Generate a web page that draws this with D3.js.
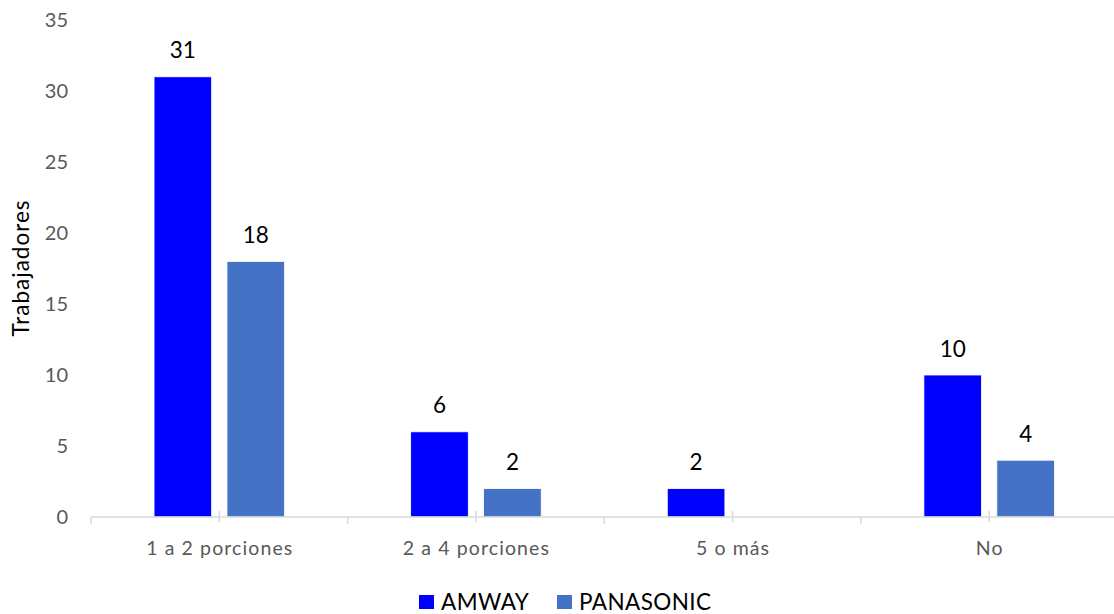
<!DOCTYPE html>
<html><head><meta charset="utf-8">
<script src="https://cdn.jsdelivr.net/npm/d3@7"></script>
<style>body{margin:0;background:#fff}svg{display:block;font-family:Lato,"Open Sans",sans-serif}</style>
</head><body><svg id="c" width="1114" height="614"></svg>
<script>
const categories = ["1 a 2 porciones", "2 a 4 porciones", "5 o más", "No"];
const seriesNames = ["AMWAY", "PANASONIC"];
const amway = [31, 6, 2, 10];
const panasonic = [18, 2, 0, 4];
const colors = ["#0000FF", "#4472C4"];
const yTicks = [0, 5, 10, 15, 20, 25, 30, 35];

const values = [amway, panasonic];
const svg = d3.select("#c");
const plotLeft = 91, plotRight = 1117.5, plotTop = 20, plotBottom = 517;

const x0 = d3.scaleBand().domain(categories).range([plotLeft, plotRight]).padding(0);
const bw = x0.bandwidth();
const x1 = d3.scaleBand().domain(seriesNames).range([bw * 0.2456, bw * (1 - 0.2456)]).paddingInner(0.21).paddingOuter(0);
const y = d3.scaleLinear().domain([0, 35]).range([plotBottom, plotTop]);

// y tick labels
svg.append("g").selectAll("text").data(yTicks).join("text")
  .attr("x", 68).attr("y", d => y(d)).attr("dy", "0.35em")
  .attr("text-anchor", "end").attr("font-size", 20).attr("fill", "#595959")
  .text(d => d);

// y title
svg.append("text").attr("transform", "translate(29,268) rotate(-90)")
  .attr("text-anchor", "middle").attr("font-size", 22.5).attr("letter-spacing", 1)
  .attr("fill", "#000").text("Trabajadores");

// bars
const data = [];
categories.forEach((c, i) => seriesNames.forEach((s, j) => data.push({c, s, j, v: values[j][i]})));
const g = svg.append("g");
g.selectAll("rect").data(data.filter(d => d.v > 0)).join("rect")
  .attr("x", d => x0(d.c) + x1(d.s)).attr("width", x1.bandwidth())
  .attr("y", d => y(d.v)).attr("height", d => y(0) - y(d.v))
  .attr("fill", d => colors[d.j]).attr("stroke", "#fff").attr("stroke-width", 0.8);

g.selectAll("text").data(data.filter(d => d.v > 0)).join("text")
  .attr("x", d => x0(d.c) + x1(d.s) + x1.bandwidth() / 2).attr("y", d => y(d.v) - 18.5)
  .attr("text-anchor", "middle").attr("font-size", 22.5).attr("fill", "#000")
  .text(d => d.v);

// x axis
const ax = svg.append("g").attr("stroke", "#d9d9d9").attr("stroke-width", 1.5);
ax.append("line").attr("x1", plotLeft).attr("x2", plotRight).attr("y1", plotBottom).attr("y2", plotBottom);
const bounds = categories.map(c => x0(c)).concat([plotRight]);
ax.selectAll("line.b").data(bounds).join("line").attr("class", "b")
  .attr("x1", d => d).attr("x2", d => d).attr("y1", plotBottom).attr("y2", plotBottom + 7);
ax.selectAll("line.m").data(categories).join("line").attr("class", "m")
  .attr("x1", d => x0(d) + bw / 2).attr("x2", d => x0(d) + bw / 2).attr("y1", plotBottom - 6).attr("y2", plotBottom + 5);

svg.append("g").selectAll("text").data(categories).join("text")
  .attr("x", d => x0(d) + bw / 2 + 0.5).attr("y", 555)
  .attr("text-anchor", "middle").attr("font-size", 19.5).attr("letter-spacing", 1.1).attr("fill", "#595959")
  .text(d => d);

// legend
const legX = [419, 557];
const lg = svg.append("g");
seriesNames.forEach((s, j) => {
  lg.append("rect").attr("x", legX[j]).attr("y", 595).attr("width", 15).attr("height", 14).attr("fill", colors[j]);
  lg.append("text").attr("x", legX[j] + 22).attr("y", 610).attr("font-size", 22.5).attr("letter-spacing", 0.4)
    .attr("fill", "#000").text(s);
});
</script></body></html>
